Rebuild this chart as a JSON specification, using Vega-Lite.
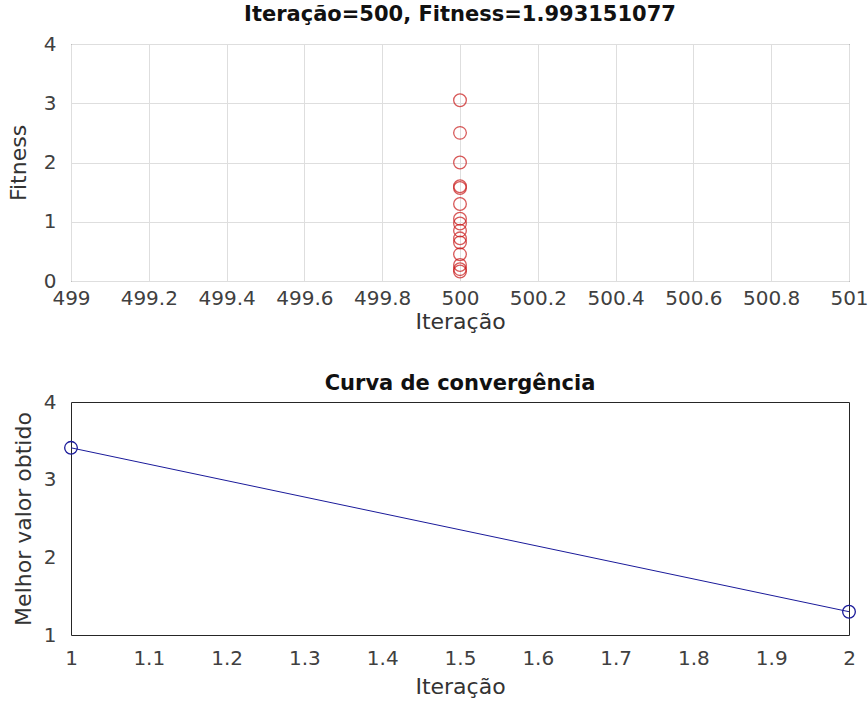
{
  "$schema": "https://vega.github.io/schema/vega-lite/v6.json",
  "padding": {"left": 6, "top": 3, "right": 5, "bottom": 5},
  "spacing": 39,
  "background": "white",
  "config": {
    "font": "DejaVu Sans",
    "view": {"stroke": "#262626", "strokeWidth": 1},
    "axis": {
      "labelFont": "DejaVu Sans",
      "labelFontSize": 20,
      "labelColor": "#404040",
      "titleFont": "DejaVu Sans",
      "titleFontSize": 22,
      "titleFontWeight": "normal",
      "titleColor": "#333333",
      "domain": false,
      "ticks": false,
      "labelFlush": false,
      "labelPadding": 10
    },
    "title": {"font": "DejaVu Sans", "fontSize": 21, "fontWeight": "bold", "color": "#111111", "offset": 9}
  },
  "vconcat": [
    {
      "title": "Iteração=500, Fitness=1.993151077",
      "width": 778,
      "height": 237,
      "data": {"values": [
        {"Iteracao": 500, "Fitness": 3.05},
        {"Iteracao": 500, "Fitness": 2.5},
        {"Iteracao": 500, "Fitness": 2.0},
        {"Iteracao": 500, "Fitness": 1.6},
        {"Iteracao": 500, "Fitness": 1.57},
        {"Iteracao": 500, "Fitness": 1.3},
        {"Iteracao": 500, "Fitness": 1.05},
        {"Iteracao": 500, "Fitness": 0.97},
        {"Iteracao": 500, "Fitness": 0.85},
        {"Iteracao": 500, "Fitness": 0.72},
        {"Iteracao": 500, "Fitness": 0.65},
        {"Iteracao": 500, "Fitness": 0.45},
        {"Iteracao": 500, "Fitness": 0.27},
        {"Iteracao": 500, "Fitness": 0.2},
        {"Iteracao": 500, "Fitness": 0.16}
      ]},
      "mark": {"type": "point", "shape": "circle", "filled": false, "size": 160, "stroke": "#c81414", "strokeWidth": 1.3, "clip": false},
      "encoding": {
        "x": {"field": "Iteracao", "type": "quantitative", "title": "Iteração",
          "scale": {"domain": [499, 501], "nice": false, "zero": false},
          "axis": {"values": [499, 499.2, 499.4, 499.6, 499.8, 500, 500.2, 500.4, 500.6, 500.8, 501], "labelExpr": "format(datum.value, '.1~f')", "grid": true, "gridColor": "#dedede", "labelPadding": 7, "titlePadding": 3}},
        "y": {"field": "Fitness", "type": "quantitative", "title": "Fitness",
          "scale": {"domain": [0, 4], "nice": false},
          "axis": {"values": [0, 1, 2, 3, 4], "grid": true, "gridColor": "#dedede", "titlePadding": 13, "labelPadding": 15}}
      }
    },
    {
      "title": {"text": "Curva de convergência", "offset": -2},
      "width": 778,
      "height": 233,
      "data": {"values": [
        {"Iteracao": 1, "Melhor": 3.41},
        {"Iteracao": 2, "Melhor": 1.3}
      ]},
      "mark": {"type": "line", "color": "#1a1a9a", "strokeWidth": 1, "clip": false, "point": {"shape": "circle", "filled": false, "size": 160, "stroke": "#1a1a9a", "strokeWidth": 1.3}},
      "encoding": {
        "x": {"field": "Iteracao", "type": "quantitative", "title": "Iteração",
          "scale": {"domain": [1, 2], "nice": false, "zero": false},
          "axis": {"values": [1, 1.1, 1.2, 1.3, 1.4, 1.5, 1.6, 1.7, 1.8, 1.9, 2], "labelExpr": "format(datum.value, '.1~f')", "grid": false, "labelPadding": 13, "titlePadding": 8}},
        "y": {"field": "Melhor", "type": "quantitative", "title": "Melhor valor obtido",
          "scale": {"domain": [1, 4], "nice": false, "zero": false},
          "axis": {"values": [1, 2, 3, 4], "grid": false, "titlePadding": 8, "labelPadding": 15}}
      }
    }
  ]
}
